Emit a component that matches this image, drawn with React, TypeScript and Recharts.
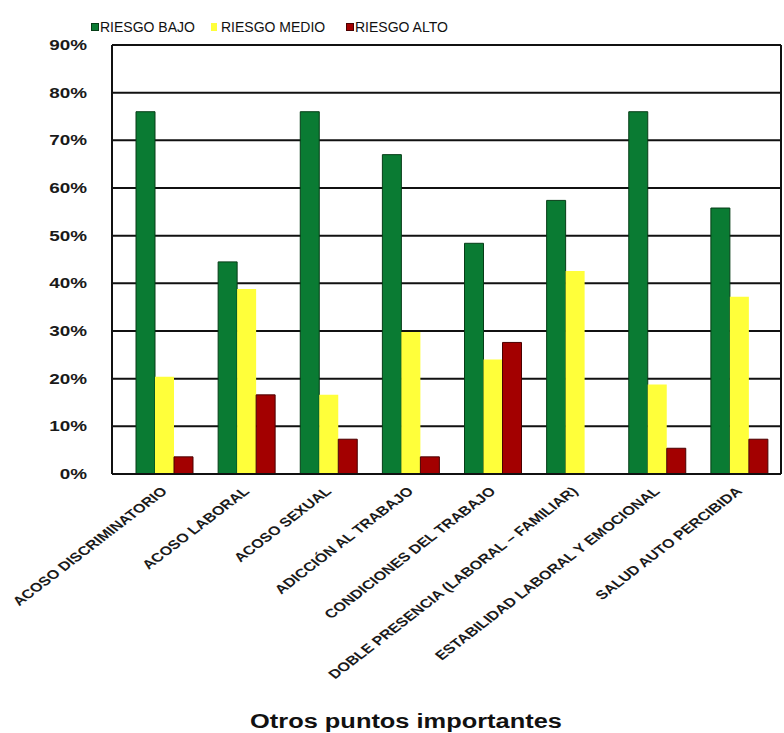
import { BarChart, Bar, XAxis, YAxis, CartesianGrid } from 'recharts'

const categories = [
  'ACOSO DISCRIMINATORIO',
  'ACOSO LABORAL',
  'ACOSO SEXUAL',
  'ADICCIÓN AL TRABAJO',
  'CONDICIONES DEL TRABAJO',
  'DOBLE PRESENCIA (LABORAL – FAMILIAR)',
  'ESTABILIDAD LABORAL Y EMOCIONAL',
  'SALUD AUTO PERCIBIDA',
]

// porcentajes por nivel de riesgo
const riesgoBajo = [76, 44.5, 76, 67, 48.4, 57.4, 76, 55.8]
const riesgoMedio = [20.4, 38.8, 16.6, 29.8, 24, 42.6, 18.8, 37.2]
const riesgoAlto = [3.6, 16.6, 7.3, 3.6, 27.6, 0, 5.4, 7.3]

const yTicks = [0, 10, 20, 30, 40, 50, 60, 70, 80, 90]

const series = [
  { key: 'bajo', name: 'RIESGO BAJO', fill: '#0a7b33', stroke: '#063d17' },
  { key: 'medio', name: 'RIESGO MEDIO', fill: '#ffff3a', stroke: 'none' },
  { key: 'alto', name: 'RIESGO ALTO', fill: '#a30000', stroke: '#4a0000' },
]

const data = categories.map((name, i) => ({
  name,
  bajo: riesgoBajo[i],
  medio: riesgoMedio[i],
  alto: riesgoAlto[i],
}))

const FONT = '"Liberation Sans", Arial, sans-serif'

function PctTick({ x, y, payload }: any) {
  return (
    <g transform={`translate(${x},${y}) scale(1.35,1)`}>
      <text x={0} y={0} dy="0.36em" textAnchor="end" fontSize={14} fontWeight="bold" fill="#1a1a1a" fontFamily={FONT}>
        {payload.value}%
      </text>
    </g>
  )
}

function CategoryTick({ x, y, payload }: any) {
  return (
    <g transform={`translate(${x - 1},${y + 13}) scale(1.3,1) rotate(-45)`}>
      <text x={0} y={0} dy="0.35em" textAnchor="end" fontSize={12.5} fontWeight="bold" fill="#1a1a1a" fontFamily={FONT}>
        {payload.value}
      </text>
    </g>
  )
}

const legendPos = [
  { box: 91, text: 100, w: 8 },
  { box: 211, text: 221, w: 6 },
  { box: 346, text: 355, w: 8 },
]

export default function App() {
  return (
    <div style={{ position: 'absolute', left: 0, top: 0, width: 784, height: 733, background: '#fff', fontFamily: FONT }}>
      {/* leyenda */}
      {series.map((s, i) => (
        <div key={s.key}>
          <div
            style={{
              position: 'absolute',
              left: legendPos[i].box,
              top: 23,
              width: legendPos[i].w,
              height: 8,
              background: s.fill,
              border: s.stroke === 'none' ? 'none' : `1px solid ${s.stroke}`,
              boxSizing: 'border-box',
            }}
          />
          <div style={{ position: 'absolute', left: legendPos[i].text, top: 20, fontSize: 14, lineHeight: '14px', color: '#111', whiteSpace: 'nowrap' }}>
            {s.name}
          </div>
        </div>
      ))}

      <BarChart
        width={784}
        height={733}
        data={data}
        margin={{ top: 45, right: 0, left: 0, bottom: 0 }}
        barCategoryGap={12}
        barGap={0}
      >
        <CartesianGrid vertical={false} stroke="#111" strokeWidth={2} strokeOpacity={1} yAxisId="pct" />
        <XAxis
          dataKey="name"
          interval={0}
          height={259}
          padding={{ left: 12, right: 0 }}
          axisLine={{ stroke: '#111', strokeWidth: 2 }}
          tickLine={false}
          tickSize={0}
          tick={<CategoryTick />}
        />
        <YAxis
          yAxisId="pct"
          width={112}
          domain={[0, 90]}
          ticks={yTicks}
          interval={0}
          axisLine={{ stroke: '#111', strokeWidth: 2 }}
          tickLine={false}
          tickSize={0}
          tickMargin={25}
          tick={<PctTick />}
        />
        <YAxis
          yAxisId="frame"
          orientation="right"
          width={3}
          domain={[0, 90]}
          tick={false}
          tickLine={false}
          axisLine={{ stroke: '#111', strokeWidth: 2 }}
        />
        {series.map((s) => (
          <Bar
            key={s.key}
            yAxisId="pct"
            dataKey={s.key}
            name={s.name}
            fill={s.fill}
            stroke={s.stroke}
            strokeWidth={1}
            isAnimationActive={false}
          />
        ))}
      </BarChart>

      <div
        style={{
          position: 'absolute',
          left: 14,
          top: 711,
          width: 784,
          textAlign: 'center',
          fontSize: 20,
          lineHeight: '20px',
          fontWeight: 'bold',
          color: '#111',
          transform: 'scaleX(1.27)',
          transformOrigin: 'center',
        }}
      >
        Otros puntos importantes
      </div>
    </div>
  )
}
